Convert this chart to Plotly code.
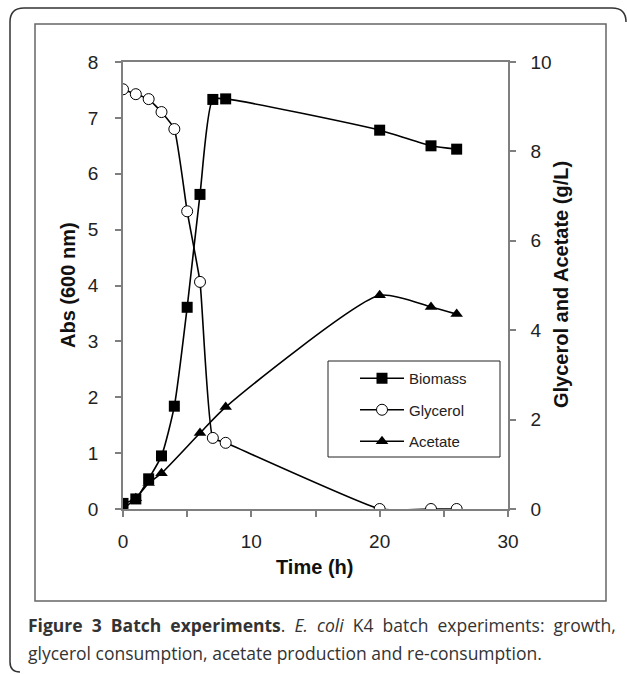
import plotly.graph_objects as go

# ---- data ----
time_biomass = [0, 1, 2, 3, 4, 5, 6, 7, 8, 20, 24, 26]
biomass = [0.10, 0.18, 0.54, 0.95, 1.84, 3.61, 5.63, 7.33, 7.34, 6.78, 6.50, 6.44]

time_glycerol = [0, 1, 2, 3, 4, 5, 6, 7, 8, 20, 24, 26]
glycerol = [9.39, 9.28, 9.17, 8.88, 8.50, 6.66, 5.08, 1.59, 1.48, 0.0, 0.0, 0.0]

time_acetate = [0, 1, 2, 3, 6, 8, 20, 24, 26]
acetate = [0.0, 0.24, 0.58, 0.80, 1.70, 2.28, 4.78, 4.52, 4.36]

x_ticks = [0, 10, 20, 30]
left_ticks = [0, 1, 2, 3, 4, 5, 6, 7, 8]
right_ticks = [0, 2, 4, 6, 8, 10]

W, H = 627, 674
L, R, T, B = 123, 508, 62, 509  # plot area in pixels


def px(x):
    return (x - L) / (R - L)


def py(y):
    return (B - y) / (B - T)


AX = "#7f7f7f"
TICKFONT = dict(family="Liberation Sans, Arial", size=19, color="#222")

fig = go.Figure()
fig.add_trace(go.Scatter(
    x=time_biomass, y=biomass, name="Biomass", yaxis="y", legendgroup="a",
    mode="lines+markers", line=dict(color="black", width=1.6, shape="spline", smoothing=0.6),
    marker=dict(symbol="square", size=11, color="black")))
fig.add_trace(go.Scatter(
    x=time_glycerol, y=glycerol, name="Glycerol", yaxis="y2", legendgroup="b",
    mode="lines+markers", line=dict(color="black", width=1.6, shape="spline", smoothing=0.4),
    marker=dict(symbol="circle", size=11, color="white", line=dict(color="black", width=1))))
fig.add_trace(go.Scatter(
    x=time_acetate, y=acetate, name="Acetate", yaxis="y2", legendgroup="c",
    mode="lines+markers", line=dict(color="black", width=1.6, shape="spline", smoothing=0.6),
    marker=dict(symbol="triangle-up", size=11, color="black")))

fig.update_layout(
    width=W, height=H,
    margin=dict(l=L, r=W - R, t=T, b=H - B, pad=0),
    paper_bgcolor="white", plot_bgcolor="white",
    showlegend=True,
    legend=dict(x=px(355), y=py(362), xanchor="left", yanchor="top",
                bgcolor="rgba(0,0,0,0)", borderwidth=0,
                font=dict(family="Liberation Sans, Arial", size=15, color="#222"),
                tracegroupgap=9, itemwidth=44),
    xaxis=dict(range=[0, 30], tickvals=x_ticks, ticktext=[str(v) for v in x_ticks],
               showgrid=False, zeroline=False, showline=True, linecolor=AX, linewidth=1.5,
               mirror=True, ticks="outside", ticklen=6, tickcolor=AX, tickwidth=1.5,
               tickfont=TICKFONT, ticklabelstandoff=8,
               minor=dict(tickvals=[5, 15, 25], ticks="outside", ticklen=6, tickcolor=AX, tickwidth=1.5)),
    yaxis=dict(range=[0, 8], tickvals=left_ticks, showgrid=False, zeroline=False,
               showline=True, linecolor=AX, linewidth=1.5, ticks="outside", ticklen=6,
               tickcolor=AX, tickwidth=1.5, tickfont=TICKFONT, ticklabelstandoff=13),
    yaxis2=dict(range=[0, 10], tickvals=right_ticks, overlaying="y", side="right",
                showgrid=False, zeroline=False, showline=True, linecolor=AX, linewidth=1.5,
                ticks="outside", ticklen=6, tickcolor=AX, tickwidth=1.5, tickfont=TICKFONT,
                ticklabelstandoff=11),
)

TITLEFONT = dict(family="Liberation Sans, Arial", size=20, color="#111")
CAP = dict(family="Open Sans", size=17.5, color="#333")
SP = " \u00a0"  # widened gap to mimic the justified first caption line
line1 = SP.join(["<b>Figure", "3", "Batch", "experiments</b>.", "<i>E.", "coli</i>",
                 "K4", "batch", "experiments:", "growth,"])
annotations = [
    dict(text="<b>Time (h)</b>", x=px(314), y=py(567), xref="paper", yref="paper",
         showarrow=False, font=TITLEFONT, xanchor="center", yanchor="middle"),
    dict(text="<b>Abs (600 nm)</b>", x=px(68), y=py(285), xref="paper", yref="paper",
         showarrow=False, font=TITLEFONT, textangle=-90, xanchor="center", yanchor="middle"),
    dict(text="<b>Glycerol and Acetate (g/L)</b>", x=px(561), y=py(285), xref="paper", yref="paper",
         showarrow=False, font=TITLEFONT, textangle=-90, xanchor="center", yanchor="middle"),
    dict(text=line1,
         x=px(26), y=py(625), xref="paper", yref="paper", showarrow=False, font=CAP,
         xanchor="left", yanchor="middle", align="left"),
    dict(text="glycerol consumption, acetate production and re-consumption.",
         x=px(26), y=py(653), xref="paper", yref="paper", showarrow=False, font=CAP,
         xanchor="left", yanchor="middle", align="left"),
]
fig.update_layout(annotations=annotations)

# frames
outer = (f"M {px(20)},{py(672)} Q {px(10)},{py(672)} {px(10)},{py(662)} "
         f"L {px(10)},{py(22)} Q {px(10)},{py(8)} {px(24)},{py(8)} "
         f"L {px(612)},{py(8)} Q {px(626)},{py(8)} {px(626)},{py(22)}")
shapes = [
    dict(type="path", path=outer, xref="paper", yref="paper",
         line=dict(color="#333", width=1.5)),
    dict(type="rect", x0=px(35), x1=px(606), y0=py(24), y1=py(601), xref="paper", yref="paper",
         line=dict(color="#666", width=1.5), layer="below"),
    dict(type="rect", x0=px(328), x1=px(500), y0=py(361), y1=py(457), xref="paper", yref="paper",
         line=dict(color="#222", width=1), fillcolor="white", layer="below"),
]
fig.update_layout(shapes=shapes)

fig.write_html("out.html")
